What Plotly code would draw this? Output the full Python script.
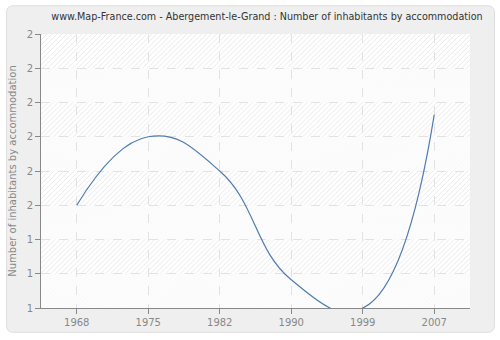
import base64
import plotly.graph_objects as go

years = ["1968", "1975", "1982", "1990", "1999", "2007"]
values = [1.51, 1.85, 1.68, 1.14, 1.0, 1.96]
y_ticks = [1.0, 1.17, 1.34, 1.51, 1.68, 1.85, 2.02, 2.19, 2.36]
y_tick_labels = ["1", "1", "1", "2", "2", "2", "2", "2", "2"]

W, H = 500, 340
ml, mr, mt, mb = 40, 30, 34, 30
pw, ph = W - ml - mr, H - mt - mb

# full-canvas background: rounded grey frame + hatched plot area with alternating faint bands
nb = len(y_ticks) - 1
bh = ph / nb
bands = "".join(
    f'<rect x="{ml}" y="{mt + i * bh:.2f}" width="{pw}" height="{bh:.2f}" fill="#fbfbfb" fill-opacity="0.85"/>'
    for i in range(1, nb, 2)
)
svg = (
    f'<svg xmlns="http://www.w3.org/2000/svg" width="{W}" height="{H}" viewBox="0 0 {W} {H}" preserveAspectRatio="none">'
    '<defs><pattern id="h" patternUnits="userSpaceOnUse" width="5" height="5">'
    '<rect width="5" height="5" fill="#ffffff"/>'
    '<path d="M-1,6 L6,-1 M-1,1 L1,-1 M4,6 L6,4" stroke="#e9e9e9" stroke-width="1"/>'
    '</pattern></defs>'
    f'<rect x="5.5" y="5.5" width="{W - 11}" height="{H - 11}" rx="6" ry="6" fill="#efefef" stroke="#dedede" stroke-width="1"/>'
    f'<rect x="{ml}" y="{mt}" width="{pw}" height="{ph}" fill="url(#h)"/>'
    f'{bands}</svg>'
)
bg_uri = "data:image/svg+xml;base64," + base64.b64encode(svg.encode()).decode()

fig = go.Figure()
fig.add_trace(go.Scatter(
    x=years, y=values, mode="lines",
    line=dict(color="#4f7bb0", width=1.2, shape="spline", smoothing=1.3),
    hoverinfo="skip",
))

fig.update_layout(
    width=W, height=H,
    margin=dict(l=ml, r=mr, t=mt, b=mb),
    paper_bgcolor="white",
    plot_bgcolor="rgba(0,0,0,0)",
    showlegend=False,
    font=dict(family="DejaVu Sans", size=10, color="#888"),
    title=dict(
        text="www.Map-France.com - Abergement-le-Grand : Number of inhabitants by accommodation",
        x=(267) / W, xanchor="center", y=1 - 17 / H, yanchor="middle",
        font=dict(family="DejaVu Sans", size=9.6, color="#333"),
    ),
    xaxis=dict(
        type="category", range=[-0.5, 5.5],
        showline=True, linecolor="#888", linewidth=1,
        ticks="outside", ticklen=5, tickcolor="#888",
        showgrid=True, gridcolor="#e2e2e2", griddash="dash", gridwidth=1,
        tickfont=dict(size=10, color="#888"),
        zeroline=False, fixedrange=True,
    ),
    yaxis=dict(
        range=[y_ticks[0], y_ticks[-1]],
        tickvals=y_ticks, ticktext=y_tick_labels,
        showline=True, linecolor="#888", linewidth=1,
        ticks="outside", ticklen=5, tickcolor="#888",
        showgrid=True, gridcolor="#e2e2e2", griddash="dash", gridwidth=1,
        tickfont=dict(size=10, color="#888"),
        title=dict(text="Number of inhabitants by accommodation",
                   font=dict(size=10, color="#888"), standoff=8),
        zeroline=False, fixedrange=True,
    ),
    images=[
        dict(source=bg_uri, xref="paper", yref="paper",
             x=-ml / pw, y=1 + mt / ph,
             sizex=W / pw, sizey=H / ph, xanchor="left", yanchor="top",
             sizing="stretch", layer="below"),
    ],
)

fig.write_html("out.html")
